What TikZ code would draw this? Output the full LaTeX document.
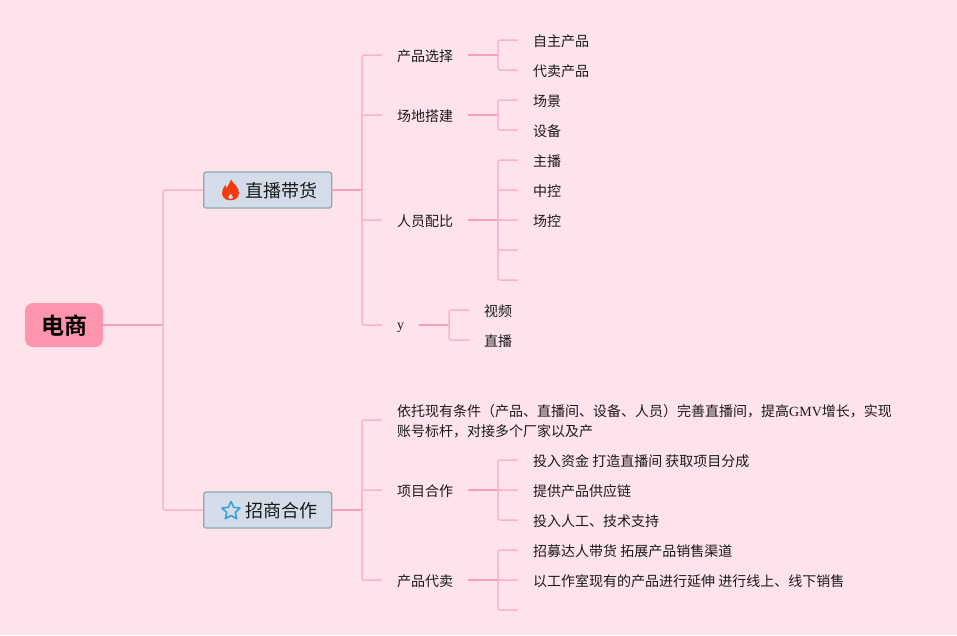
\documentclass[tikz,border=0pt]{standalone}
\usepackage{fontspec}
\setmainfont{Liberation Serif}
\newfontfamily\cjk{Noto Sans CJK SC}
\newfontfamily\cjkb{Noto Sans CJK SC Bold}
\usetikzlibrary{shapes.geometric}
\definecolor{bgc}{HTML}{FEE3EB}
\definecolor{stubc}{HTML}{F5A0BC}
\definecolor{brc}{HTML}{F7B5CB}
\definecolor{rootc}{HTML}{FF94AF}
\definecolor{mainc}{HTML}{D3DCE8}
\definecolor{mainb}{HTML}{8AABAB}
\definecolor{firec}{HTML}{F53A0E}
\definecolor{starc}{HTML}{3AA0DC}
\definecolor{txt}{HTML}{1A1A1A}
\tikzset{
  rootbox/.style={fill=rootc,rounded corners=8pt,minimum width=78pt,minimum height=44pt,inner sep=0pt,font=\fontsize{23}{23}\cjkb,text=black,text height=20pt,text depth=0.5pt},
  mainbox/.style={fill=mainc,draw=mainb,line width=1.3pt,rounded corners=2.5pt,minimum height=36pt,text width=92pt,inner xsep=18pt,inner ysep=0pt,align=left,font=\fontsize{18}{18}\cjk,text=txt,anchor=west,text height=16pt,text depth=0.3pt},
  topicbase/.style={anchor=west,inner xsep=15pt,inner ysep=1pt,font=\fontsize{14}{20}\cjk,text=txt,align=left},
  topic/.style={topicbase,text height=14pt,text depth=1.4pt},
  stub/.style={draw=stubc,line width=1.8pt},
  branch/.style={draw=brc,line width=1.5pt,rounded corners=2pt},
}
\begin{document}
\begin{tikzpicture}[x=1pt,y=-1pt]
\fill[bgc] (0,0) rectangle (957,635);
\useasboundingbox (0,0) rectangle (957,635);
% nodes
\node[rootbox] (root) at (64,325) {电商};
\node[mainbox] (m1) at (203,190) {\hspace*{24pt}直播带货};
\node[mainbox] (m2) at (203,510) {\hspace*{24pt}招商合作};
\node[topic] (a1) at (382,55) {产品选择};
\node[topic] (a2) at (382,115) {场地搭建};
\node[topic] (a3) at (382,220) {人员配比};
\node[topicbase,text height=9pt,text depth=0pt] (a4) at (382,325) {\rmfamily y};
\node[topicbase] (b1) at (382,421) {依托现有条件（产品、直播间、设备、人员）完善直播间，提高{\rmfamily GMV}增长，实现\\账号标杆，对接多个厂家以及产};
\node[topic] (b2) at (382,490) {项目合作};
\node[topic] (b3) at (382,580) {产品代卖};
\node[topic] (l11) at (518,40) {自主产品};
\node[topic] (l12) at (518,70) {代卖产品};
\node[topic] (l21) at (518,100) {场景};
\node[topic] (l22) at (518,130) {设备};
\node[topic] (l31) at (518,160) {主播};
\node[topic] (l32) at (518,190) {中控};
\node[topic] (l33) at (518,220) {场控};
\coordinate (l34) at (518,250);
\coordinate (l35) at (518,280);
\node[topic] (l41) at (469,310) {视频};
\node[topic] (l42) at (469,340) {直播};
\node[topic] (k21) at (518,460) {投入资金 打造直播间 获取项目分成};
\node[topic] (k22) at (518,490) {提供产品供应链};
\node[topic] (k23) at (518,520) {投入人工、技术支持};
\node[topic] (k31) at (518,550) {招募达人带货 拓展产品销售渠道};
\node[topic] (k32) at (518,580) {以工作室现有的产品进行延伸 进行线上、线下销售};
\coordinate (k33) at (518,610);
% junctions
\coordinate (j0) at (163,325);
\coordinate (j1) at (362,190);
\coordinate (j2) at (362,510);
\coordinate (ja1) at (498,55);
\coordinate (ja2) at (498,115);
\coordinate (ja3) at (498,220);
\coordinate (ja4) at (449,325);
\coordinate (jb2) at (498,490);
\coordinate (jb3) at (498,580);
% connectors
\draw[stub] (root.east) -- (j0);
\foreach \n in {m1,m2} \draw[branch] (j0) |- (\n.west);
\draw[stub] (m1.east) -- (j1);
\draw[stub] (m2.east) -- (j2);
\foreach \n in {a1,a2,a3,a4} \draw[branch] (j1) |- (\n.west);
\draw[branch] (j2) |- ([yshift=1pt]b1.west);
\foreach \n in {b2,b3} \draw[branch] (j2) |- (\n.west);
\draw[stub] (a1.east) -- (ja1);
\draw[stub] (a2.east) -- (ja2);
\draw[stub] (a3.east) -- (ja3);
\draw[stub] (a4.east) -- (ja4);
\draw[stub] (b2.east) -- (jb2);
\draw[stub] (b3.east) -- (jb3);
\foreach \n in {l11,l12} \draw[branch] (ja1) |- (\n.west);
\foreach \n in {l21,l22} \draw[branch] (ja2) |- (\n.west);
\foreach \n in {l31,l32,l33,l34,l35} \draw[branch] (ja3) |- (\n);
\foreach \n in {l41,l42} \draw[branch] (ja4) |- (\n.west);
\foreach \n in {k21,k22,k23} \draw[branch] (jb2) |- (\n.west);
\foreach \n in {k31,k32,k33} \draw[branch] (jb3) |- (\n);
% icons
\fill[firec,even odd rule] (230.5,200.3) .. controls (225,200.5) and (222,197) .. (222,192.5)
  .. controls (222,189) and (224,187.5) .. (225.5,185) .. controls (226,186) and (226.2,187) .. (226.5,188.2)
  .. controls (228,186) and (229.5,183) .. (231,179.5) .. controls (233,184) and (239,186.5) .. (239,193)
  .. controls (239,198) and (235,200.3) .. (230.5,200.3) -- cycle
  (230.7,199.3) .. controls (229,199.3) and (228.3,198) .. (228.3,197) .. controls (228.3,195.8) and (230,195) .. (230.7,193.5)
  .. controls (231.4,195) and (233,195.8) .. (233,197) .. controls (233,198) and (232.3,199.3) .. (230.7,199.3) -- cycle;
\node[star,star points=5,star point ratio=2.1,draw=starc,line width=1.6pt,line join=round,minimum size=19pt,inner sep=0pt] (s2) at (231,511) {};
\end{tikzpicture}
\end{document}
